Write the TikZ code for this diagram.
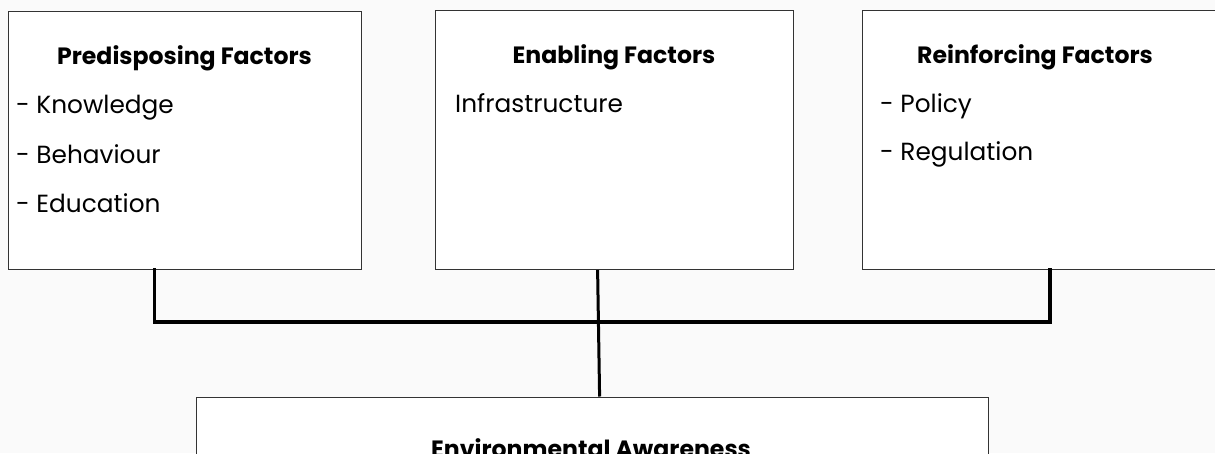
\documentclass[tikz,border=0pt]{standalone}
\usepackage{fontspec}
\setmainfont{Poppins}
\begin{document}
\begin{tikzpicture}[x=1pt,y=-1pt,
  box/.style={draw=black!80, line width=1.2pt, fill=white, inner sep=0pt, anchor=north west},
  head/.style={font=\fontsize{23.6}{28}\selectfont\bfseries, anchor=base, inner sep=0pt},
  item/.style={font=\fontsize{24.8}{29}\selectfont, anchor=base west, inner sep=0pt},
  link/.style={line width=3.8pt, black}]
\useasboundingbox (0,0) rectangle (1215,453);
\clip (0,0) rectangle (1215,453);
\fill[black!2] (0,0) rectangle (1215,453);

% the three factor boxes
\node[box, minimum width=353pt, minimum height=258pt] (pf) at (8,11) {};
\node[box, minimum width=358pt, minimum height=259pt] (ef) at (435,10) {};
\node[box, minimum width=360pt, minimum height=259.5pt] (rf) at (862,9.5) {};
% outcome box
\node[box, minimum width=792pt, minimum height=80pt] (ea) at (196,396.5) {};

% box texts
\node[head] (pft) at (184.5,64) {Predisposing Factors};
\node[item] (pf1) at (16,113) {- Knowledge};
\node[item] (pf2) at (16,163) {- Behaviour};
\node[item] (pf3) at (16,212) {- Education};

\node[head] (eft) at (614,63) {Enabling Factors};
\node[item] (ef1) at (455,112) {Infrastructure};

\node[head] (rft) at (1035,63) {Reinforcing Factors};
\node[item] (rf1) at (880,112) {- Policy};
\node[item] (rf2) at (880,160) {- Regulation};

\node[head] (eat) at (591,457) {Environmental Awareness};

% connectors
\coordinate (jl) at (154.5,322);
\coordinate (jr) at (1050,322);
\draw[link, line cap=rect] (jl |- pf.south) -- (jl) -- (jr) -- (jr |- rf.south);
\draw[line width=3pt] ([xshift=-17pt]ef.south) -- ([xshift=7pt]ea.north);
\end{tikzpicture}
\end{document}
